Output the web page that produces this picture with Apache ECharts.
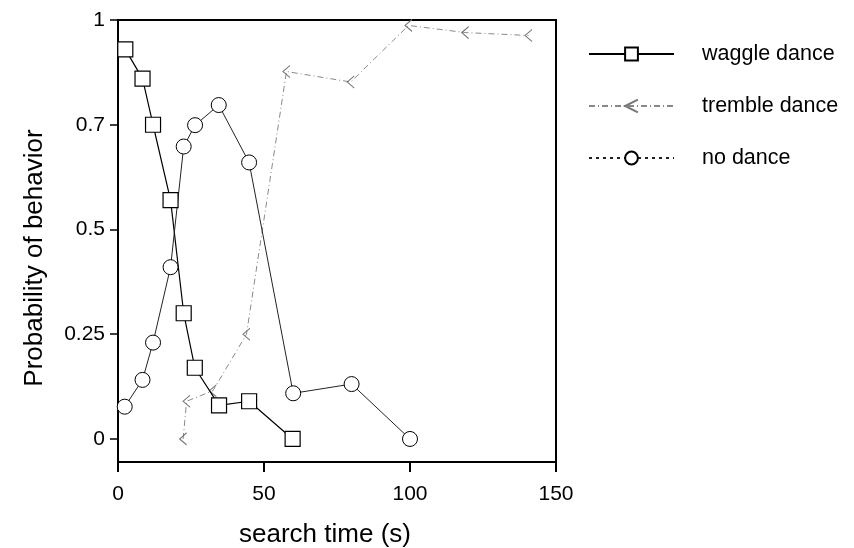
<!DOCTYPE html>
<html>
<head>
<meta charset="UTF-8">
<title>Probability of behavior</title>
<script src="https://cdn.jsdelivr.net/npm/echarts@6/dist/echarts.min.js"></script>
<style>
  html, body { margin: 0; padding: 0; background: #fff; }
  #chart { width: 854px; height: 548px; }
</style>
</head>
<body>
<div id="chart"></div>
<script>
// search time (s) and probability for each behaviour
var waggleTime = [2.5, 8.4, 12, 18, 22.5, 26.3, 34.6, 44.9, 59.8];
var waggleProb = [0.93, 0.86, 0.75, 0.57, 0.3, 0.17, 0.08, 0.09, 0];

var trembleTime = [22.3, 23.5, 32.5, 44, 57.7, 79.7, 99.5, 118.9, 140.6];
var trembleProb = [0, 0.09, 0.115, 0.25, 0.877, 0.852, 0.987, 0.97, 0.963];

var noDanceTime = [2.3, 8.4, 12, 18, 22.5, 26.4, 34.5, 44.9, 60, 80, 100];
var noDanceProb = [0.077, 0.141, 0.23, 0.41, 0.698, 0.749, 0.797, 0.66, 0.109, 0.131, 0];

var xTicks = [0, 50, 100, 150];
var yTickValues = [0, 0.25, 0.5, 0.75, 1];
var yTickLabels = ['0', '0.25', '0.5', '0.7', '1'];

function pairs(xs, ys) {
    return xs.map(function (x, i) { return [x, ys[i]]; });
}

var font = 'Liberation Sans, Arial, sans-serif';
var chevron = 'path://M8,0 L0,8 L8,16';

var chart = echarts.init(document.getElementById('chart'));
chart.setOption({
    animation: false,
    textStyle: { fontFamily: font, color: '#000' },
    grid: {
        left: 118, right: 298, top: 20, bottom: 86,
        outerBoundsMode: 'none',
        show: true, borderColor: '#000', borderWidth: 2
    },
    legend: {
        orient: 'vertical',
        left: 588, top: 43, padding: 0,
        itemWidth: 85, itemHeight: 16, itemGap: 30,
        formatter: function (name) { return '{t|' + name + '}'; },
        textStyle: {
            rich: { t: { fontSize: 21.5, fontFamily: font, color: '#000', padding: [0, 0, 0, 23], lineHeight: 20 } }
        },
        data: [
            { name: 'waggle dance' },
            { name: 'tremble dance' },
            { name: 'no dance', lineStyle: { type: [3, 4] } }
        ]
    },
    xAxis: {
        type: 'value',
        min: 0, max: 150, interval: 50,
        name: 'search time (s)',
        nameLocation: 'middle',
        nameGap: 60,
        nameTextStyle: { fontSize: 26, fontFamily: font, color: '#000', padding: [0, 24, 0, 0] },
        axisLine: { onZero: false, lineStyle: { color: '#000', width: 2 } },
        axisTick: { length: 10, lineStyle: { color: '#000', width: 2 } },
        axisLabel: {
            fontSize: 21, color: '#000', margin: 22,
            customValues: xTicks
        },
        splitLine: { show: false }
    },
    yAxis: {
        type: 'value',
        min: -0.055, max: 1,
        name: 'Probability of behavior',
        nameLocation: 'middle',
        nameGap: 70,
        nameTextStyle: { fontSize: 26, fontFamily: font, color: '#000', padding: [0, 34, 0, 0] },
        axisLine: { onZero: false, lineStyle: { color: '#000', width: 2 } },
        axisTick: { length: 8, lineStyle: { color: '#000', width: 1.5 }, customValues: yTickValues },
        axisLabel: {
            fontSize: 21, color: '#000', margin: 13,
            customValues: yTickValues,
            formatter: function (v) {
                var i = yTickValues.indexOf(v);
                return i >= 0 ? yTickLabels[i] : '';
            }
        },
        splitLine: { show: false }
    },
    series: [
        {
            name: 'waggle dance',
            type: 'line',
            data: pairs(waggleTime, waggleProb),
            symbol: 'rect',
            symbolSize: 15,
            z: 3,
            itemStyle: { color: '#fff', borderColor: '#000', borderWidth: 1.2 },
            lineStyle: { color: '#000', width: 1.2 }
        },
        {
            name: 'tremble dance',
            type: 'line',
            data: pairs(trembleTime, trembleProb),
            symbol: chevron,
            symbolSize: [7, 12],
            z: 2,
            itemStyle: { color: 'rgba(0,0,0,0)', borderColor: '#777', borderWidth: 1 },
            lineStyle: { color: '#888', width: 1, type: [6, 3, 1, 3] }
        },
        {
            name: 'no dance',
            type: 'line',
            data: pairs(noDanceTime, noDanceProb),
            symbol: 'circle',
            symbolSize: 15,
            z: 3,
            itemStyle: { color: '#fff', borderColor: '#000', borderWidth: 1 },
            lineStyle: { color: '#222', width: 1 }
        }
    ]
});
</script>
</body>
</html>
